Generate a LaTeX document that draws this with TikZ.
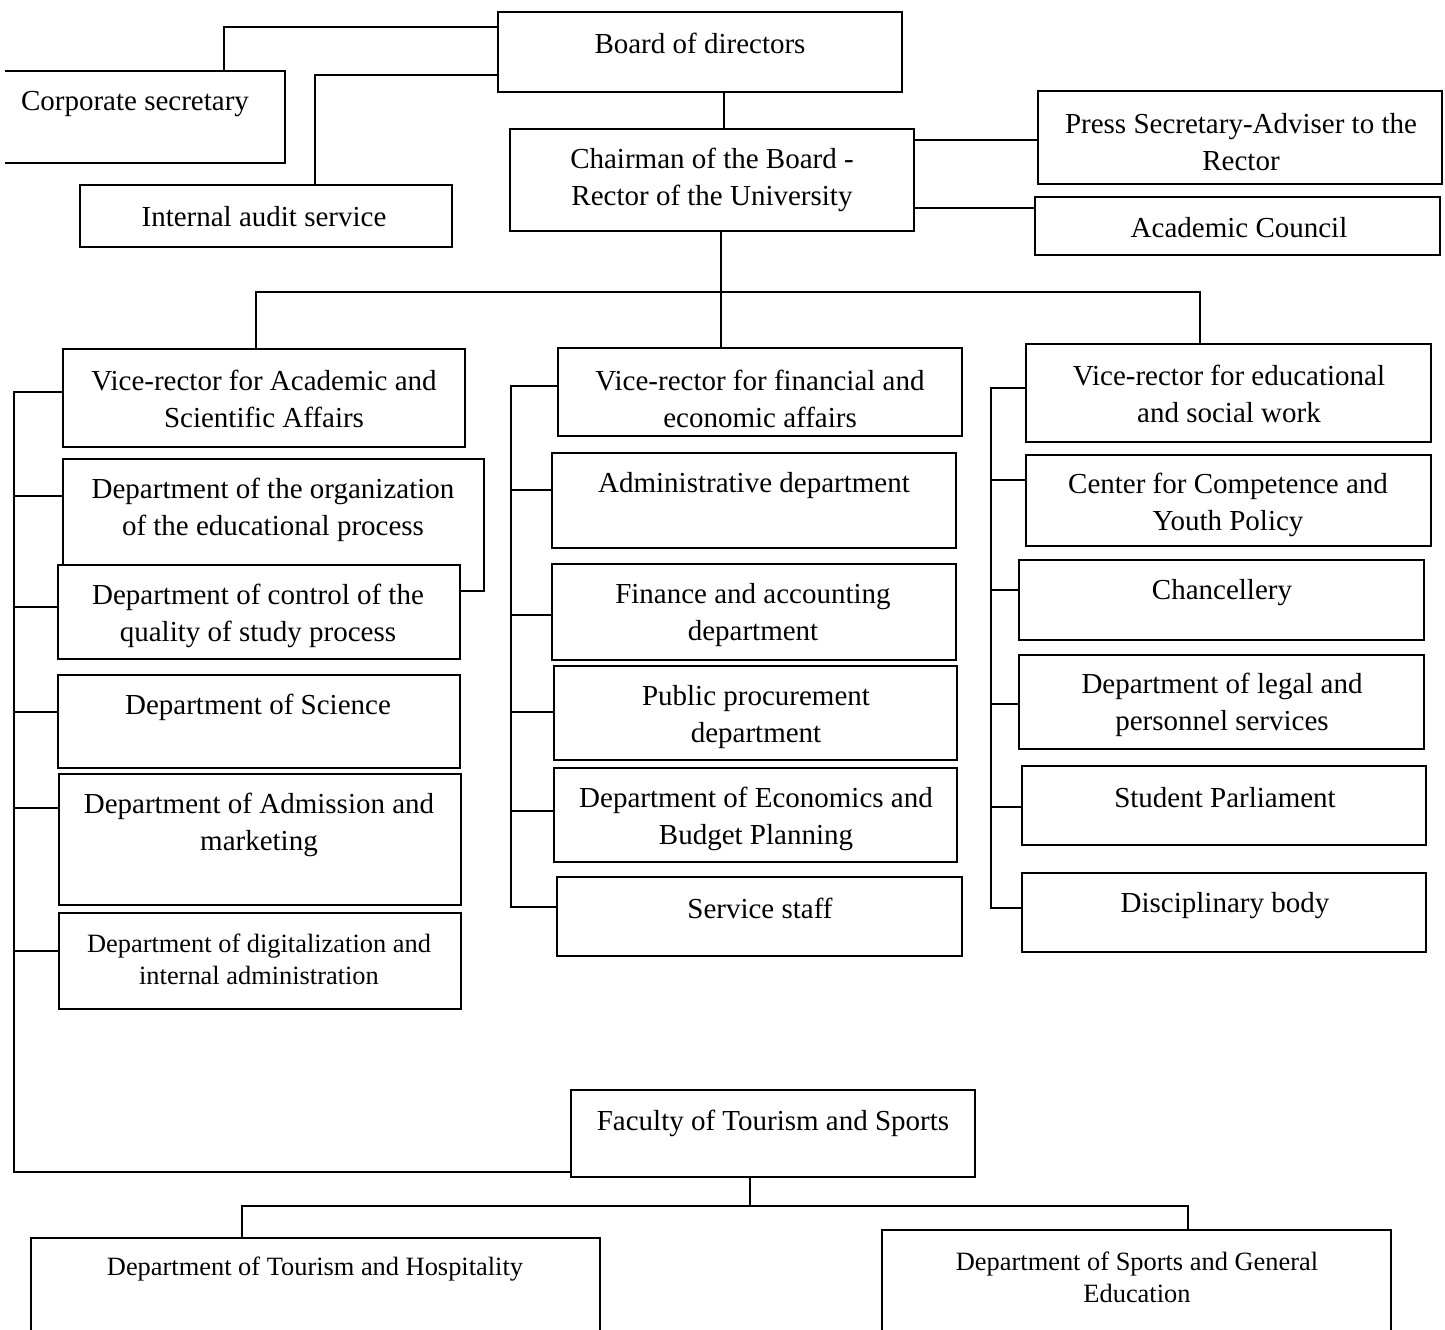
\documentclass[tikz,border=0pt]{standalone}
\usepackage{fontspec}
\setmainfont{Liberation Serif}
\usetikzlibrary{fit}

\begin{document}
\begin{tikzpicture}[x=0.5pt,y=-0.5pt,
  unit/.style={draw, line width=1pt, fill=white, inner sep=0pt},
  boxtext/.style={align=center, inner sep=0pt, yshift=-1.3pt, font=\fontsize{14.5}{18.5}\selectfont},
  smalltext/.style={boxtext, font=\fontsize{13.2}{16}\selectfont},
  link/.style={line width=0.8pt}]
   \newcommand{\unitbox}[5]{
        \node[unit, fit={(#2,#3) (#4,#5)}] (#1) {};
    }
\useasboundingbox (0,0) rectangle (1445,1329);
\clip (0,0) rectangle (1445,1329);

% top level
\unitbox{bod}{498}{12}{902}{92}
\node[fit={(5,71) (285,163)}, inner sep=0pt] (corp) {};
\draw[line width=1pt] (corp.north west) -- (corp.north east) -- (corp.south east) -- (corp.south west);
\unitbox{audit}{80}{185}{452}{247}
\unitbox{chair}{510}{129}{914}{231}
\unitbox{press}{1038}{91}{1442}{184}
\unitbox{council}{1035}{197}{1440}{255}

\node[boxtext] (bodt) at (700,41) {Board of directors};
\node[boxtext] (corpt) at (135,101) {Corporate secretary};
\node[boxtext] (auditt) at (264,214) {Internal audit service};
\node[boxtext] (chairt) at (712,177) {Chairman of the Board -\\Rector of the University};
\node[boxtext] (presst) at (1241,139) {Press Secretary-Adviser to the\\Rector};
\node[boxtext] (councilt) at (1239,225) {Academic Council};

% left column
\unitbox{vra}{63}{349}{465}{447}
\unitbox{org}{63}{459}{484}{591}
\unitbox{ctrl}{58}{565}{460}{659}
\unitbox{sci}{58}{675}{460}{768}
\unitbox{adm}{59}{774}{461}{905}
\unitbox{dig}{59}{913}{461}{1009}

\node[boxtext] (vrat) at (264,396) {Vice-rector for Academic and\\Scientific Affairs};
\node[boxtext] (orgt) at (273,507) {Department of the organization\\of the educational process};
\node[boxtext] (ctrlt) at (258,613) {Department of control of the\\quality of study process};
\node[boxtext] (scit) at (258,705) {Department of Science};
\node[boxtext] (admt) at (259,822) {Department of Admission and\\marketing};
\node[smalltext] (digt) at (259,957) {Department of digitalization and\\internal administration};

% middle column
\unitbox{vrf}{558}{348}{962}{436}
\unitbox{admin}{552}{453}{956}{548}
\unitbox{fin}{552}{564}{956}{660}
\unitbox{proc}{554}{666}{957}{760}
\unitbox{econ}{554}{768}{957}{862}
\unitbox{serv}{557}{877}{962}{956}

\node[boxtext] (vrft) at (760,396) {Vice-rector for financial and\\economic affairs};
\node[boxtext] (admint) at (754,483) {Administrative department};
\node[boxtext] (fint) at (753,612) {Finance and accounting\\department};
\node[boxtext] (proct) at (756,714) {Public procurement\\department};
\node[boxtext] (econt) at (756,816) {Department of Economics and\\Budget Planning};
\node[boxtext] (servt) at (760,906) {Service staff};

% right column
\unitbox{vre}{1026}{344}{1431}{442}
\unitbox{cent}{1026}{455}{1431}{546}
\unitbox{chanc}{1019}{560}{1424}{640}
\unitbox{legal}{1019}{655}{1424}{749}
\unitbox{parl}{1022}{766}{1426}{845}
\unitbox{disc}{1022}{873}{1426}{952}

\node[boxtext] (vret) at (1229,391) {Vice-rector for educational\\and social work};
\node[boxtext] (centt) at (1228,502) {Center for Competence and\\Youth Policy};
\node[boxtext] (chanct) at (1222,590) {Chancellery};
\node[boxtext] (legalt) at (1222,702) {Department of legal and\\personnel services};
\node[boxtext] (parlt) at (1225,795) {Student Parliament};
\node[boxtext] (disct) at (1225,903) {Disciplinary body};

% faculty
\unitbox{fac}{571}{1090}{975}{1177}
\unitbox{tour}{31}{1238}{600}{1345}
\unitbox{sport}{882}{1230}{1391}{1345}

\node[boxtext] (fact) at (773,1121) {Faculty of Tourism and Sports};
\node[smalltext] (tourt) at (315,1266) {Department of Tourism and Hospitality};
\node[smalltext] (sportt) at (1137,1275) {Department of Sports and General\\Education};

% connectors
\draw[link] (bod.west |- 0,27) -| (224,0 |- corp.north);
\draw[link] (bod.west |- 0,75) -| (315,0 |- audit.north);
\draw[link] (bod.south -| 724,0) -- (chair.north -| 724,0);
\draw[link] (chair.east |- 0,140) -- (press.west |- 0,140);
\draw[link] (chair.east |- 0,208) -- (council.west |- 0,208);

\coordinate (hub) at (721,292);
\draw[link] (chair.south -| hub) -- (hub);
\draw[link] (vra.north -| 256,0) |- (hub) -| (vre.north -| 1200,0);
\draw[link] (hub) -- (vrf.north -| hub);

\coordinate (lbus) at (14,392);
\draw[link] (vra.west |- lbus) -- (lbus) |- (fac.west |- 0,1172);
\foreach \n/\y in {org/496, ctrl/607, sci/712, adm/808, dig/951}
  \draw[link] (\n.west |- 0,\y) -- (lbus |- 0,\y);

\coordinate (mbus) at (511,386);
\draw[link] (vrf.west |- mbus) -- (mbus) |- (serv.west |- 0,907);
\foreach \n/\y in {admin/490, fin/615, proc/712, econ/811}
  \draw[link] (\n.west |- 0,\y) -- (mbus |- 0,\y);

\coordinate (rbus) at (991,388);
\draw[link] (vre.west |- rbus) -- (rbus) |- (disc.west |- 0,908);
\foreach \n/\y in {cent/480, chanc/590, legal/704, parl/807}
  \draw[link] (\n.west |- 0,\y) -- (rbus |- 0,\y);

\coordinate (fhub) at (750,1206);
\draw[link] (fac.south -| fhub) -- (fhub);
\draw[link] (tour.north -| 242,0) |- (fhub) -| (sport.north -| 1188,0);
\end{tikzpicture}
\end{document}
